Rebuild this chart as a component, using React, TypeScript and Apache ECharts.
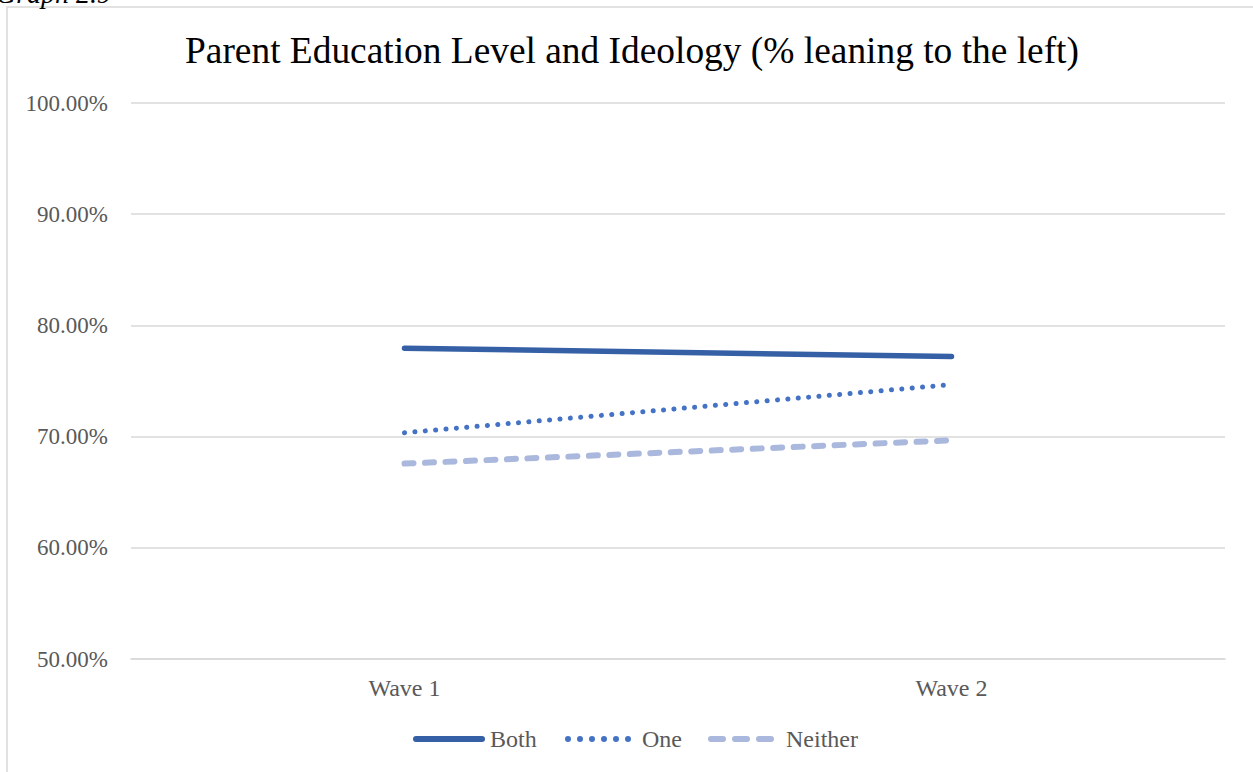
import React, { useEffect, useRef } from "react";
import * as echarts from "echarts";

const categories = ["Wave 1", "Wave 2"];
const both = [0.7795, 0.772];
const one = [0.7035, 0.7468];
const neither = [0.6757, 0.6967];
const titleText = "Parent Education Level and Ideology (% leaning to the left)";
const captionText = "Graph 2.9";

function dots(n: number, step: number, r: number) {
  let d = "";
  for (let i = 0; i < n; i++) {
    const cx = r + i * step;
    d += `M${cx - r},${r} A${r},${r} 0 1 0 ${cx + r},${r} A${r},${r} 0 1 0 ${cx - r},${r} Z `;
  }
  return "path://" + d;
}
function dashes(n: number, len: number, gap: number, r: number) {
  let d = "";
  for (let i = 0; i < n; i++) {
    const x0 = i * (len + gap);
    const x1 = x0 + len;
    d += `M${x0 + r},0 H${x1 - r} A${r},${r} 0 0 1 ${x1 - r},${2 * r} H${x0 + r} A${r},${r} 0 0 1 ${x0 + r},0 Z `;
  }
  return "path://" + d;
}

export default function App() {
  const ref = useRef<HTMLDivElement>(null);
  useEffect(() => {
    const chart = echarts.init(ref.current!, null, { renderer: "svg" });
    const font = "'Liberation Serif', 'Times New Roman', serif";
    const legendText = (pad: number) => ({
      fontFamily: font,
      fontSize: 24,
      color: "#595959",
      padding: [0, 0, 0, pad],
    });
    chart.setOption({
      animation: false,
      backgroundColor: "#ffffff",
      title: {
        text: titleText,
        left: 185,
        top: 32,
        padding: 0,
        textStyle: { fontFamily: font, fontSize: 37.4, fontWeight: "normal", color: "#000000" },
      },
      graphic: [
        {
          type: "rect",
          shape: { x: 7, y: 7, width: 1300, height: 800 },
          style: { fill: "none", stroke: "#d9d9d9", lineWidth: 1.5 },
          silent: true,
        },
        {
          type: "text",
          x: -4,
          y: -21,
          style: {
            text: captionText,
            font: `italic 28px ${font}`,
            fill: "#000000",
          },
        },
      ],
      grid: { left: 131, right: 28, top: 103, bottom: 113, containLabel: false },
      legend: [
        {
          bottom: 16,
          left: 408,
          itemWidth: 72,
          itemHeight: 6,
          textStyle: legendText(0),
          data: [{ name: "Both", icon: dashes(1, 72, 0, 3) }],
        },
        {
          bottom: 16,
          left: 560,
          itemWidth: 66,
          itemHeight: 6,
          textStyle: legendText(6),
          data: [{ name: "One", icon: dots(6, 12, 3) }],
        },
        {
          bottom: 16,
          left: 703,
          itemWidth: 66,
          itemHeight: 6,
          textStyle: legendText(7),
          data: [{ name: "Neither", icon: dashes(3, 18, 6, 3) }],
        },
      ],
      xAxis: {
        type: "category",
        data: categories,
        boundaryGap: true,
        axisLine: { show: true, lineStyle: { color: "#d9d9d9", width: 1.5 } },
        axisTick: { show: false },
        axisLabel: { fontFamily: font, fontSize: 24, color: "#595959", margin: 17 },
      },
      yAxis: {
        type: "value",
        min: 0.5,
        max: 1,
        interval: 0.1,
        axisLine: { show: false },
        axisTick: { show: false },
        splitLine: { lineStyle: { color: "#d9d9d9", width: 1.5 } },
        axisLabel: {
          fontFamily: font,
          fontSize: 23,
          color: "#595959",
          margin: 23,
          formatter: (v: number) => (v * 100).toFixed(2) + "%",
        },
      },
      series: [
        {
          name: "Both",
          type: "line",
          data: both,
          symbol: "none",
          color: "#3560a6",
          lineStyle: { width: 5.5, color: "#3560a6", cap: "round" },
        },
        {
          name: "One",
          type: "line",
          data: one,
          symbol: "none",
          color: "#4472c4",
          lineStyle: { width: 5, color: "#4472c4", type: [0.1, 10.3], cap: "round" },
        },
        {
          name: "Neither",
          type: "line",
          data: neither,
          symbol: "none",
          color: "#a9b8dc",
          lineStyle: { width: 6, color: "#a9b8dc", type: [9, 11.5], cap: "round" },
        },
      ],
    });
    return () => chart.dispose();
  }, []);
  return (
    <div
      ref={ref}
      style={{ position: "absolute", left: 0, top: 0, width: 1253, height: 772 }}
    />
  );
}
